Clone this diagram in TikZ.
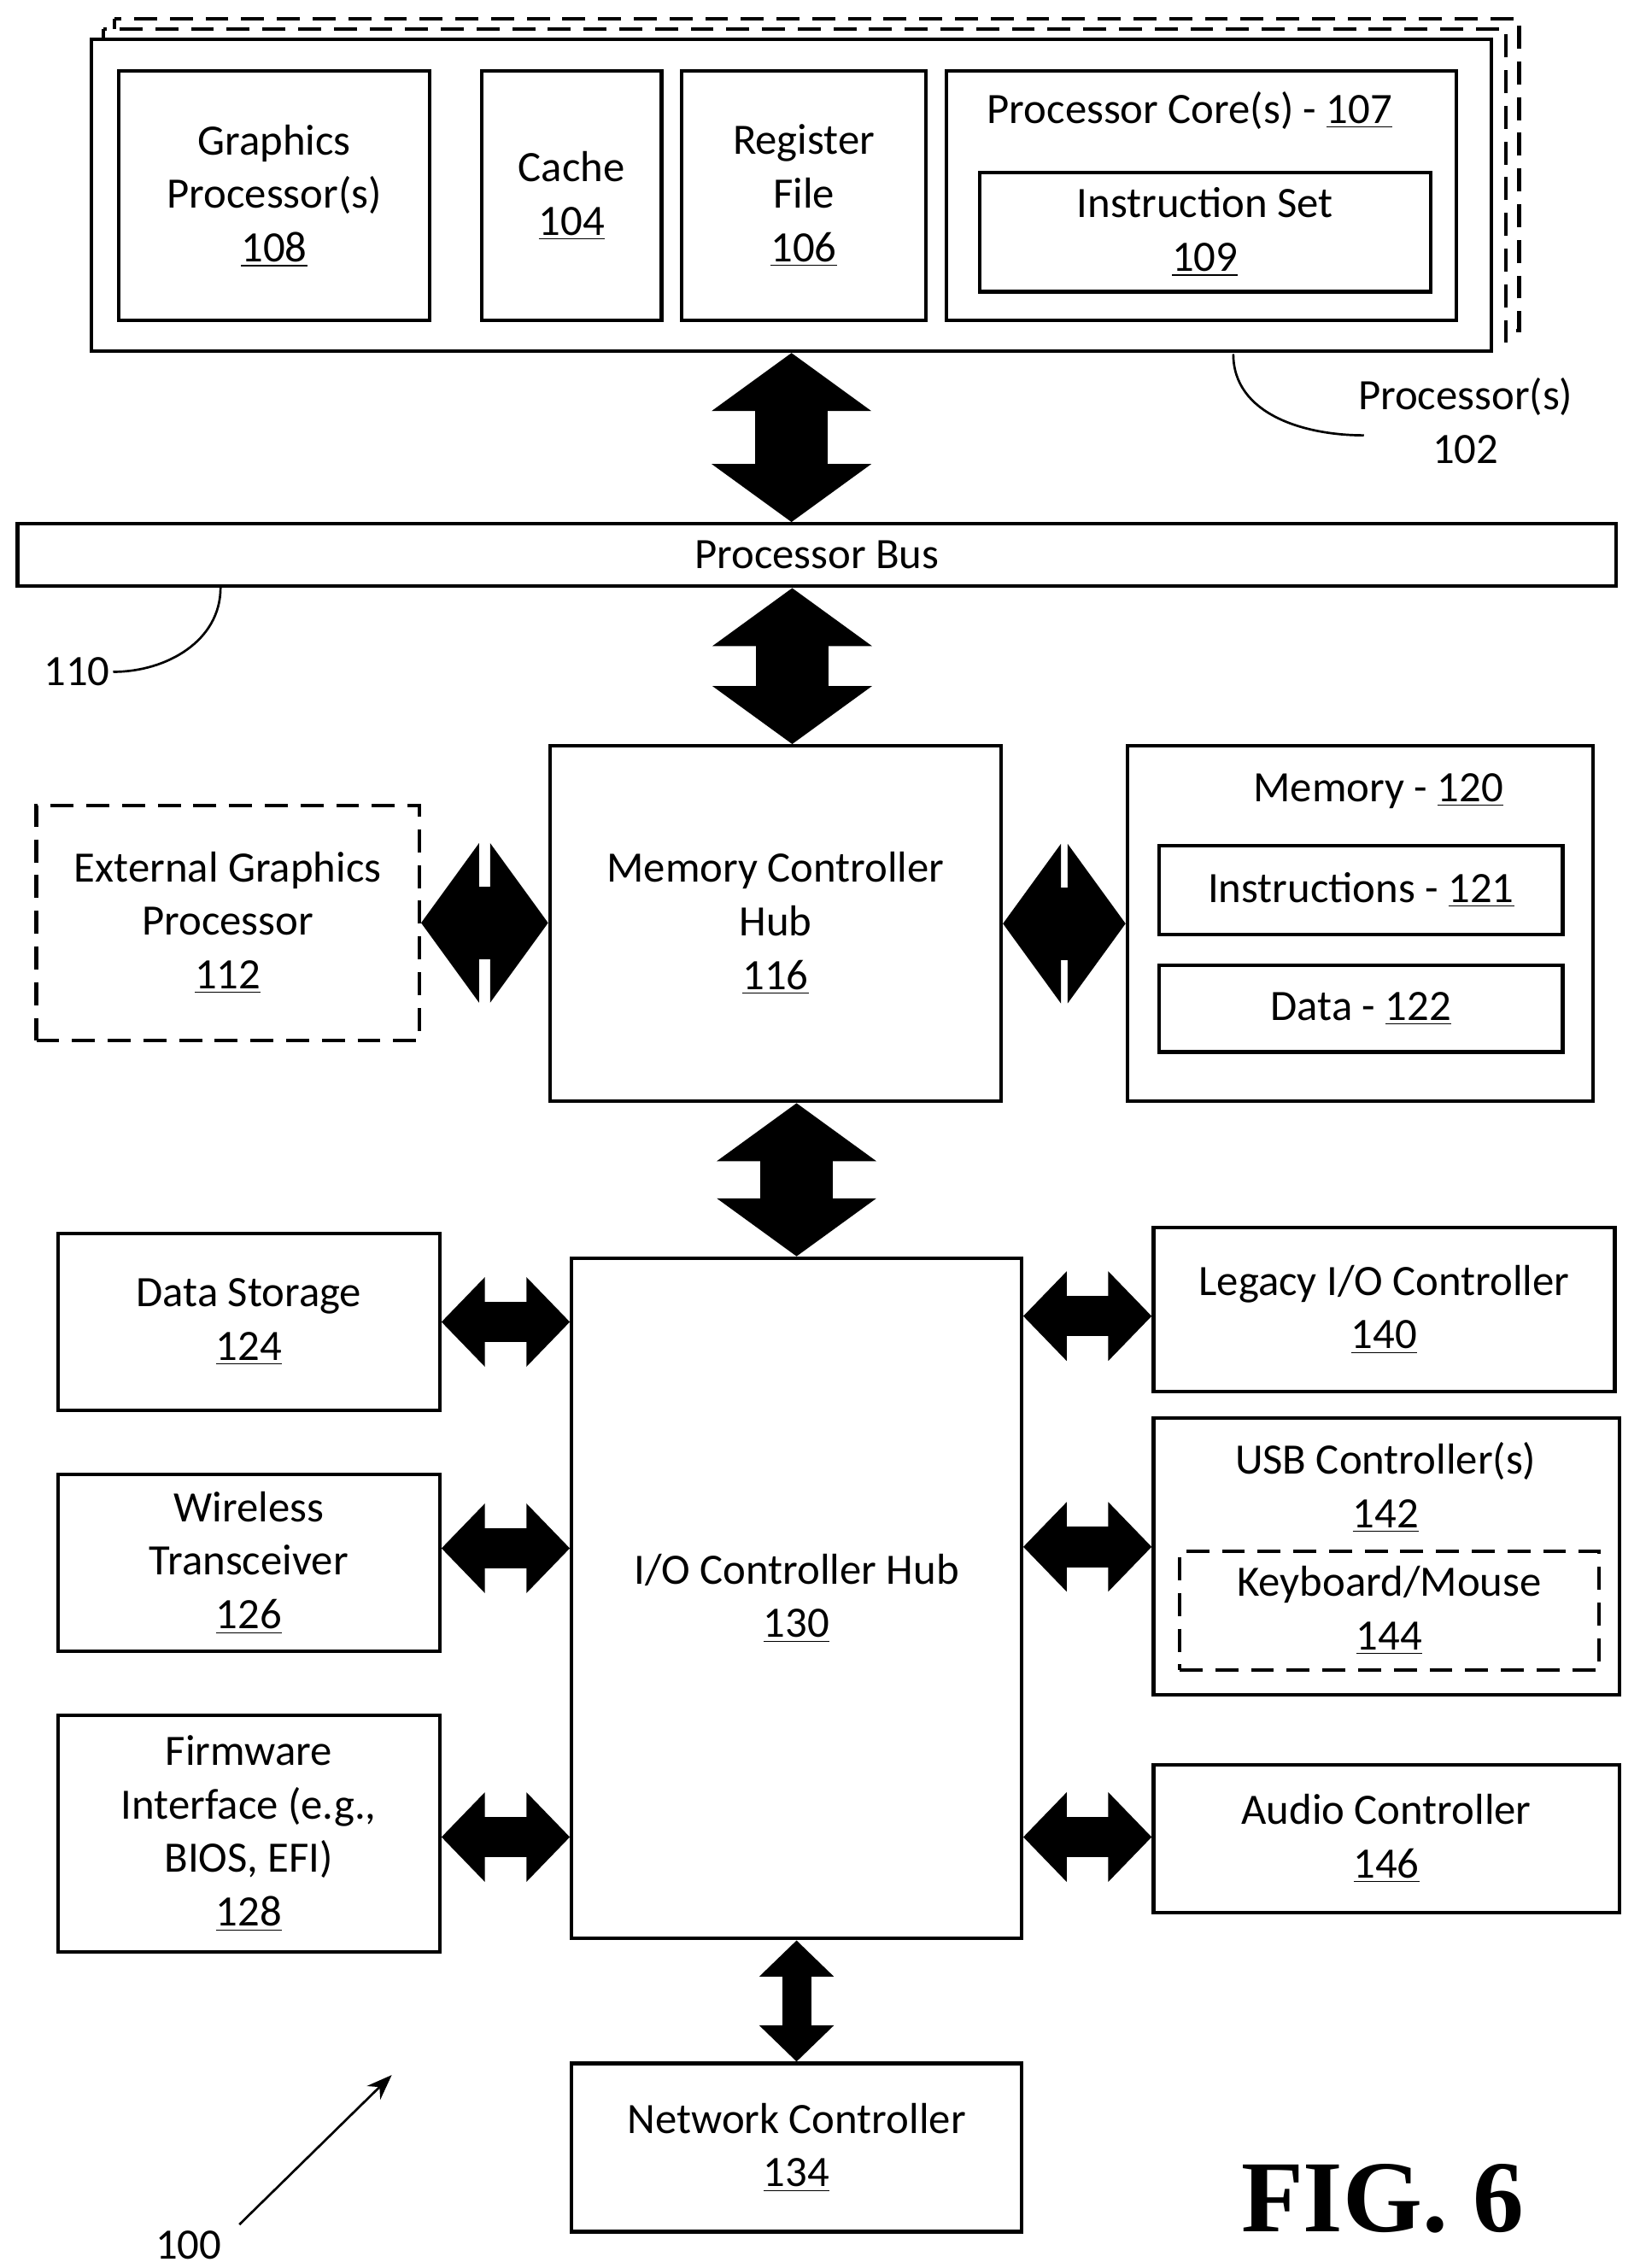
\documentclass[tikz,border=0pt]{standalone}
\usepackage{fontspec}
\setmainfont{Carlito}
\newfontfamily\figfont{Liberation Serif}
\usetikzlibrary{arrows.meta}
\tikzset{
  box/.style={draw, line width=1.4pt, fill=white, inner sep=0pt, align=center,
    font=\fontsize{17}{21}\selectfont},
  dbox/.style={box, dash pattern=on 9pt off 5pt},
  txt/.style={inner sep=0pt, align=center, font=\fontsize{17}{21}\selectfont},
  bigarrow/.style={line width=1cm, {Triangle[length=0.8cm,width=2.16cm]}-{Triangle[length=0.8cm,width=2.16cm]}},
  smallarrow/.style={line width=0.56cm, {Triangle[length=0.6cm,width=1.2cm]}-{Triangle[length=0.6cm,width=1.2cm]}},
}
\newcommand{\num}[1]{\underline{#1}}
\begin{document}
\begin{tikzpicture}[x=0.02cm,y=-0.02cm]
\useasboundingbox (0,0) rectangle (1130,1563);

% processor(s) stack
\draw[line width=1.4pt, dash pattern=on 9pt off 5pt] (79,13) rectangle (1047,228);
\draw[line width=1.4pt, dash pattern=on 9pt off 5pt, fill=white] (71,20) rectangle (1038,235);
\node[box, minimum width=19.3cm, minimum height=4.3cm] (proc) at (545.5,134.5) {};
\node[box, minimum width=4.28cm, minimum height=3.44cm] (gfx) at (189,135) {Graphics\\Processor(s)\\\num{108}};
\node[box, minimum width=2.48cm, minimum height=3.44cm] (cache) at (394,135) {Cache\\\num{104}};
\node[box, minimum width=3.36cm, minimum height=3.44cm] (reg) at (554,135) {Register\\File\\\num{106}};
\node[box, minimum width=7.04cm, minimum height=3.44cm] (core) at (828,135) {};
\node[txt] (coretxt) at (820,76) {Processor Core(s) - \num{107}};
\node[box, minimum width=6.22cm, minimum height=1.64cm] (iset) at (830.5,160) {Instruction Set\\\num{109}};
\coordinate (pcurve) at (850,244);
\node[txt] (plabel) at (1010,290) {Processor(s)\\102};
\draw[line width=0.9pt] (pcurve) to[out=-90,in=180] (940,300);

% processor bus
\node[box, minimum width=22.04cm, minimum height=0.86cm] (bus) at (563,382.5) {Processor Bus};
\coordinate (bcurve) at (152,405);
\node[txt] (blabel) at (53,463) {110};
\draw[line width=0.9pt] (bcurve) to[out=-90,in=0] (78,463);

% memory controller hub
\node[box, minimum width=6.22cm, minimum height=4.9cm] (mch) at (534.5,636.5) {Memory Controller\\Hub\\\num{116}};
\node[dbox, minimum width=5.28cm, minimum height=3.24cm] (egp) at (157,636) {External Graphics\\Processor\\\num{112}};
\node[box, minimum width=6.42cm, minimum height=4.9cm] (mem) at (937.5,636.5) {};
\node[txt] (memtxt) at (950,545) {Memory - \num{120}};
\node[box, minimum width=5.56cm, minimum height=1.22cm] (instr) at (938,613.5) {Instructions - \num{121}};
\node[box, minimum width=5.56cm, minimum height=1.2cm] (data) at (938,695) {Data - \num{122}};

% i/o controller hub
\node[box, minimum width=6.2cm, minimum height=9.38cm] (ich) at (549,1101.5) {I/O Controller Hub\\\num{130}};
\node[box, minimum width=5.26cm, minimum height=2.44cm] (store) at (171.5,911) {Data Storage\\\num{124}};
\node[box, minimum width=5.26cm, minimum height=2.44cm] (wless) at (171.5,1077) {Wireless\\Transceiver\\\num{126}};
\node[box, minimum width=5.26cm, minimum height=3.26cm] (fware) at (171.5,1263.5) {Firmware\\Interface (e.g.,\\BIOS, EFI)\\\num{128}};
\node[box, minimum width=6.36cm, minimum height=2.26cm] (legacy) at (954,902.5) {Legacy I/O Controller\\\num{140}};
\node[box, minimum width=6.42cm, minimum height=3.82cm] (usb) at (955.5,1072.5) {};
\node[txt] (usbtxt) at (955,1025) {USB Controller(s)\\\num{142}};
\node[dbox, minimum width=5.78cm, minimum height=1.64cm] (kbd) at (957.5,1110) {Keyboard/Mouse\\\num{144}};
\node[box, minimum width=6.42cm, minimum height=2.04cm] (audio) at (955.5,1267) {Audio Controller\\\num{146}};
\node[box, minimum width=6.2cm, minimum height=2.32cm] (net) at (549,1480) {Network Controller\\\num{134}};

% buses
\draw[bigarrow] (proc.south) -- (proc.south |- bus.north);
\draw[bigarrow] (bus.south -| 546,0) -- (mch.north -| 546,0);
\draw[bigarrow] (egp.east) -- (egp.east -| mch.west);
\draw[bigarrow] (mch.east |- mem.west) -- (mem.west);
\draw[bigarrow] (mch.south -| ich.north) -- (ich.north);
\draw[smallarrow] (store.east) -- (store.east -| ich.west);
\draw[smallarrow] (wless.east |- 0,1067) -- (ich.west |- 0,1067);
\draw[smallarrow] (fware.east |- 0,1266) -- (ich.west |- 0,1266);
\draw[smallarrow] (ich.east |- 0,907) -- (legacy.west |- 0,907);
\draw[smallarrow] (ich.east |- 0,1066) -- (usb.west |- 0,1066);
\draw[smallarrow] (ich.east |- 0,1266) -- (audio.west |- 0,1266);
\draw[line width=0.4cm, {Triangle[length=0.5cm,width=1cm]}-{Triangle[length=0.5cm,width=1cm]}] (ich.south) -- (net.north);

% figure labels
\node[txt] (syslabel) at (130,1547) {100};
\coordinate (sysarrow) at (270,1430);
\draw[line width=0.9pt, -{Stealth[length=0.35cm]}] (165,1533) -- (sysarrow);
\node[inner sep=0pt, font=\figfont\bfseries\fontsize{40}{44}\selectfont] (fig) at (953,1515) {FIG. 6};
\end{tikzpicture}
\end{document}
